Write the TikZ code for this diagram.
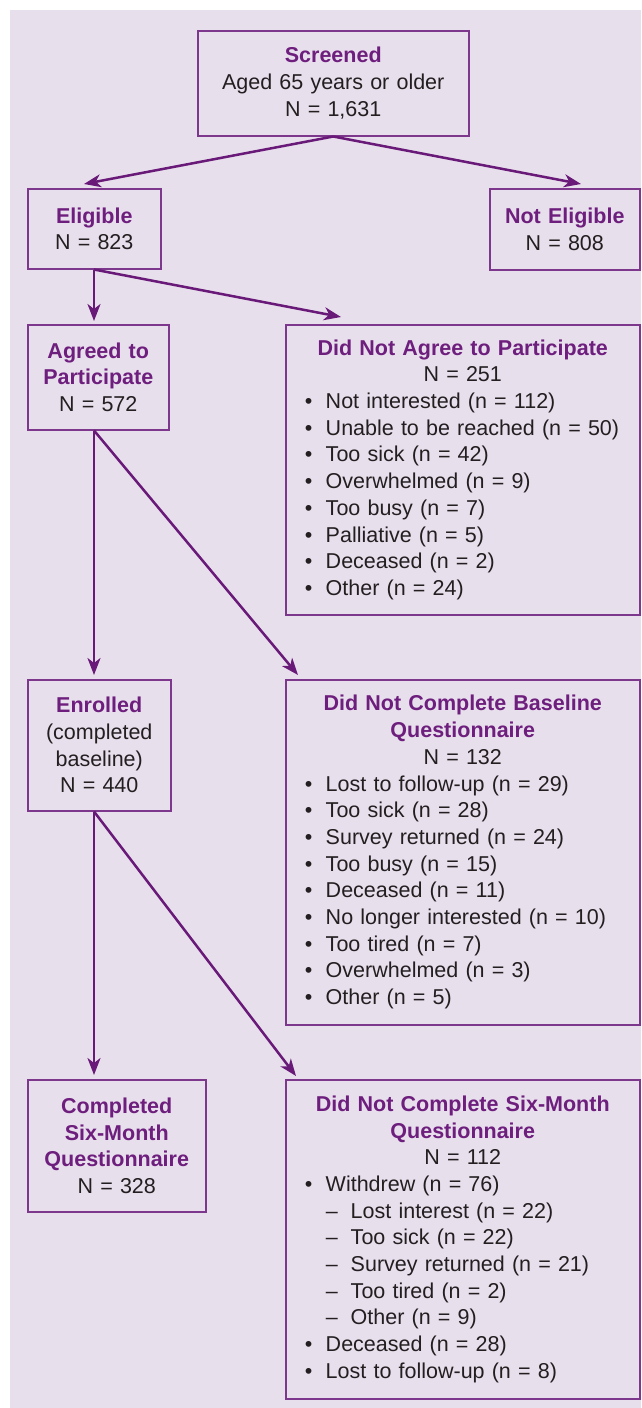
\documentclass[tikz,border=0pt]{standalone}
\usepackage{fontspec}
\setmainfont{Liberation Sans}
\usetikzlibrary{arrows.meta}
\definecolor{bgcol}{RGB}{232,223,237}
\definecolor{headcol}{RGB}{110,30,125}
\definecolor{boxcol}{RGB}{125,55,140}
\definecolor{arrcol}{RGB}{105,25,120}
\definecolor{txtcol}{RGB}{35,31,32}
\setlength{\parindent}{0pt}
\newcommand{\hd}[1]{\textcolor{headcol}{\textbf{#1}}}
\newcommand{\bl}[1]{\makebox[\hsize][l]{\hspace*{19pt}\makebox[21pt][l]{•}#1}}
\newcommand{\sbl}[1]{\makebox[\hsize][l]{\hspace*{40pt}\makebox[25pt][l]{–}#1}}
\begin{document}
\begin{tikzpicture}[x=1pt,y=-1pt,
  box/.style={draw=boxcol, line width=1.5pt, inner sep=0pt, anchor=north west,
    align=center, text=txtcol, font=\fontsize{21.5}{26.7}\selectfont},
  arr/.style={draw=arrcol, line width=2.5pt, -{Stealth[length=17pt,width=13pt,inset=5pt]}}]
\useasboundingbox (0,0) rectangle (641,1408);
\fill[bgcol] (10,10) rectangle (641,1408);

\node[box, minimum width=271pt, minimum height=105pt, text width=271pt] (screened) at (197,30)
  {\hd{Screened}\\Aged 65 years or older\\N = 1,631};
\node[box, minimum width=133pt, minimum height=80pt, text width=133pt] (eligible) at (27,188)
  {\hd{Eligible}\\N = 823};
\node[box, minimum width=150pt, minimum height=81pt, text width=150pt] (noteligible) at (489,188)
  {\hd{Not Eligible}\\N = 808};
\node[box, minimum width=141pt, minimum height=105pt, text width=141pt] (agreed) at (27,324)
  {\hd{Agreed to}\\\hd{Participate}\\N = 572};
\node[box, minimum width=354pt, minimum height=290pt, text width=354pt] (notagree) at (285,324)
  {\hd{Did Not Agree to Participate}\\N = 251\\
   \bl{Not interested (n = 112)}\\
   \bl{Unable to be reached (n = 50)}\\
   \bl{Too sick (n = 42)}\\
   \bl{Overwhelmed (n = 9)}\\
   \bl{Too busy (n = 7)}\\
   \bl{Palliative (n = 5)}\\
   \bl{Deceased (n = 2)}\\
   \bl{Other (n = 24)}};
\node[box, minimum width=143pt, minimum height=131pt, text width=143pt] (enrolled) at (27,679)
  {\hd{Enrolled}\\(completed\\baseline)\\N = 440};
\node[box, minimum width=354pt, minimum height=345pt, text width=354pt] (notbase) at (285,679)
  {\hd{Did Not Complete Baseline}\\\hd{Questionnaire}\\N = 132\\
   \bl{Lost to follow-up (n = 29)}\\
   \bl{Too sick (n = 28)}\\
   \bl{Survey returned (n = 24)}\\
   \bl{Too busy (n = 15)}\\
   \bl{Deceased (n = 11)}\\
   \bl{No longer interested (n = 10)}\\
   \bl{Too tired (n = 7)}\\
   \bl{Overwhelmed (n = 3)}\\
   \bl{Other (n = 5)}};
\node[box, minimum width=178pt, minimum height=132pt, text width=178pt] (completed) at (27,1079)
  {\hd{Completed}\\\hd{Six-Month}\\\hd{Questionnaire}\\N = 328};
\node[box, minimum width=354pt, minimum height=319pt, text width=354pt] (notsix) at (285,1079)
  {\hd{Did Not Complete Six-Month}\\\hd{Questionnaire}\\N = 112\\
   \bl{Withdrew (n = 76)}\\
   \sbl{Lost interest (n = 22)}\\
   \sbl{Too sick (n = 22)}\\
   \sbl{Survey returned (n = 21)}\\
   \sbl{Too tired (n = 2)}\\
   \sbl{Other (n = 9)}\\
   \bl{Deceased (n = 28)}\\
   \bl{Lost to follow-up (n = 8)}};

\coordinate (colx) at (94,0);
\coordinate (tipA) at (84,184);
\coordinate (tipB) at (581,184);
\coordinate (tipD) at (341,317);
\coordinate (tipE) at (298,675);
\coordinate (tipF) at (296,1076);

\draw[arr] (screened.south) -- (tipA);
\draw[arr] (screened.south) -- (tipB);
\draw[arr] (eligible.south -| colx) -- ([yshift=3pt]agreed.north -| colx);
\draw[arr] (eligible.south -| colx) -- (tipD);
\draw[arr] (agreed.south -| colx) -- ([yshift=4pt]enrolled.north -| colx);
\draw[arr] (agreed.south -| colx) -- (tipE);
\draw[arr] (enrolled.south -| colx) -- ([yshift=4pt]completed.north -| colx);
\draw[arr] (enrolled.south -| colx) -- (tipF);
\end{tikzpicture}
\end{document}
